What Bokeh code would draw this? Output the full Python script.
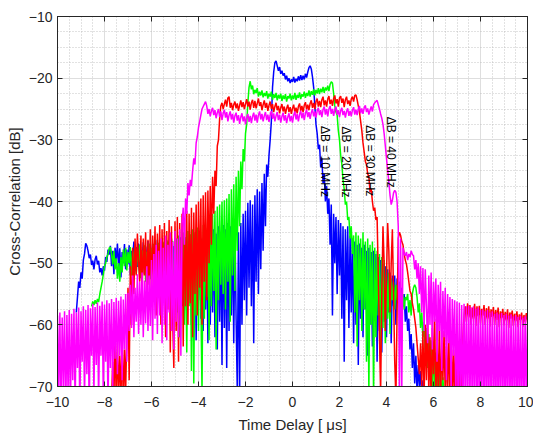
import numpy as np
from bokeh.plotting import figure
from bokeh.models import (Range1d, LinearAxis, SingleIntervalTicker, ColumnDataSource,
                          CustomLabelingPolicy)
from bokeh.core.properties import value
from bokeh.embed import file_html
from bokeh.resources import INLINE

# ---------------- data ----------------
DT = 0.05  # sample spacing of every series [us]

# dB = 10 MHz (blue), samples start at -9.20 us
blue_t0 = -9.20
blue_db = [
    -58.0, -55.5, -53.0, -54.0, -51.5, -52.5, -49.5, -48.5, -46.8, -47.2,
    -48.0, -49.2, -48.6, -50.3, -49.6, -51.0, -49.4, -48.8, -50.2, -49.6,
    -51.5, -50.8, -52.0, -50.5, -51.2, -49.0, -49.8, -47.8, -48.6, -47.2,
    -50.5, -48.0, -51.8, -47.5, -49.5, -46.8, -50.8, -47.6, -52.3, -48.2,
    -50.0, -46.9, -51.0, -47.8, -50.2, -47.1, -52.0, -48.0, -49.2, -46.5,
    -51.3, -47.4, -50.6, -46.8, -52.5, -47.9, -49.8, -46.6, -51.7, -47.3,
    -50.4, -46.4, -52.2, -47.6, -49.6, -46.8, -53.0, -47.5, -51.0, -46.2,
    -54.0, -47.8, -50.5, -46.5, -55.0, -47.0, -52.0, -46.3, -53.5, -47.6,
    -51.2, -46.0, -56.0, -47.2, -52.8, -46.4, -55.0, -46.9, -53.5, -45.8,
    -57.0, -47.0, -54.0, -45.9, -58.0, -46.5, -55.5, -45.5, -60.0, -46.2,
    -57.0, -45.3, -62.5, -46.0, -56.0, -45.5, -59.0, -46.0, -61.0, -45.0,
    -57.5, -46.2, -63.0, -44.8, -60.0, -45.6, -58.0, -44.5, -62.0, -45.2,
    -64.0, -44.0, -59.5, -45.0, -66.5, -43.8, -60.5, -44.5, -67.0, -43.5,
    -61.0, -44.0, -58.5, -43.0, -63.0, -42.8, -59.0, -70.5, -45.0, -72.0,
    -43.5, -60.0, -42.0, -56.0, -41.5, -58.5, -40.2, -54.0, -39.8, -57.0,
    -40.5, -63.0, -39.0, -53.0, -38.0, -55.0, -38.4, -51.0, -37.0, -48.0,
    -35.5, -44.0, -34.0, -36.0, -32.5, -30.0, -27.0, -21.5, -19.0, -17.5,
    -17.2, -18.0, -18.8, -18.2, -19.3, -18.8, -19.6, -19.2, -20.2, -19.6,
    -20.5, -20.0, -20.8, -20.2, -20.6, -19.8, -20.7, -20.1, -20.5, -19.7,
    -20.4, -19.5, -20.3, -19.6, -20.2, -19.3, -19.9, -19.0, -18.3, -18.0,
    -18.5, -19.8, -21.5, -24.5, -27.5, -29.0, -31.5, -30.8, -34.5, -33.0,
    -37.0, -35.5, -40.0, -37.5, -42.0, -39.5, -47.0, -40.5, -58.5, -42.0,
    -50.0, -42.5, -55.0, -43.0, -52.0, -43.5, -59.0, -44.0, -66.0, -44.5,
    -56.0, -44.0, -60.5, -45.5, -58.0, -46.0, -63.0, -46.5, -60.0, -47.0,
    -66.5, -46.8, -59.0, -47.5, -62.0, -47.0, -57.5, -48.0, -65.0, -47.5,
    -60.0, -48.2, -63.5, -48.0, -58.5, -48.5, -66.0, -49.0, -61.0, -49.5,
    -64.5, -50.0, -59.5, -50.5, -62.0, -51.0, -58.0, -51.5, -63.0, -52.0,
    -57.0, -52.0, -60.0, -52.5, -56.0, -53.0, -58.0, -54.0, -57.0, -55.0,
    -59.5, -57.0, -61.0, -59.0, -64.0, -61.5, -67.0, -63.0, -69.5, -65.0,
    -71.0, -66.5, -70.0, -67.5, -72.0, -69.0, -73.0,
]

# dB = 20 MHz (green), samples start at -8.55 us
green_t0 = -8.55
green_db = [
    -57.0, -56.2, -56.8, -56.0, -56.6, -55.8, -56.3, -55.0, -54.0, -53.0,
    -51.8, -50.5, -50.0, -49.0, -48.5, -47.6, -47.4, -48.5, -50.2, -48.0,
    -51.0, -49.2, -52.5, -50.0, -53.0, -49.0, -51.5, -47.8, -50.5, -47.5,
    -51.2, -48.2, -50.0, -47.4, -52.0, -48.0, -50.6, -47.2, -51.8, -48.3,
    -49.8, -47.0, -52.4, -47.9, -50.3, -47.1, -53.0, -48.1, -50.9, -46.8,
    -52.6, -47.6, -51.0, -46.9, -54.0, -48.0, -50.8, -46.7, -53.6, -47.5,
    -51.5, -46.6, -55.0, -47.8, -52.0, -46.5, -56.0, -47.2, -53.0, -46.4,
    -57.5, -47.0, -46.0, -58.0, -45.5, -62.0, -46.2, -56.5, -45.0, -60.0,
    -45.8, -64.5, -44.8, -57.0, -45.3, -67.5, -44.5, -69.5, -45.0, -58.5,
    -44.2, -61.0, -44.8, -56.0, -71.0, -43.8, -59.0, -44.3, -55.5, -43.5,
    -62.5, -43.2, -57.0, -42.0, -54.5, -41.5, -64.0, -40.8, -56.0, -40.5,
    -53.5, -40.0, -55.0, -39.8, -57.5, -39.5, -53.0, -38.8, -59.5, -38.0,
    -52.0, -37.2, -54.5, -36.0, -48.0, -35.0, -44.0, -33.5, -38.0, -31.5,
    -33.5, -29.0, -27.5, -24.0, -21.5, -20.5, -21.8, -21.2, -22.6, -21.9,
    -22.4, -21.6, -23.0, -22.2, -22.8, -22.0, -23.1, -22.4, -22.9, -22.1,
    -23.3, -22.5, -23.0, -22.2, -23.5, -22.6, -23.2, -22.4, -23.6, -22.7,
    -23.3, -22.5, -23.7, -22.8, -23.4, -22.6, -23.8, -22.9, -23.3, -22.5,
    -23.6, -22.8, -23.4, -22.4, -23.5, -22.7, -23.2, -22.3, -23.4, -22.6,
    -23.0, -22.2, -23.2, -22.4, -22.9, -22.0, -23.0, -22.1, -22.7, -21.8,
    -22.8, -21.9, -22.5, -21.6, -22.6, -21.7, -22.3, -21.4, -22.4, -21.5,
    -22.0, -21.2, -22.1, -21.0, -20.6, -20.8, -22.5, -24.5, -25.5, -26.0,
    -28.5, -30.0, -32.5, -34.0, -36.5, -38.0, -40.5, -40.0, -43.0, -42.5,
    -46.0, -44.0, -48.5, -45.5, -58.0, -45.0, -63.5, -45.5, -56.0, -46.0,
    -61.0, -45.0, -57.5, -46.5, -66.0, -46.0, -71.0, -47.0, -60.0, -46.5,
    -72.0, -47.5, -62.0, -48.0, -58.5, -48.5, -65.0, -49.0, -60.5, -49.5,
    -63.0, -50.5, -59.0, -51.5, -61.5, -52.5, -56.0, -53.0, -57.5, -53.5,
    -56.0, -54.0, -57.0, -54.5, -56.5, -55.0, -57.5, -55.5, -56.0, -55.0,
    -58.0, -56.0, -58.5, -55.0, -54.0, -53.5, -54.0, -55.5, -58.0, -56.5,
    -60.5, -58.0, -62.0, -59.5, -64.5, -60.5, -67.0, -61.5, -69.0, -62.5,
    -71.0, -63.5, -70.5, -64.5, -72.0, -65.5, -71.5, -67.0, -73.0, -68.5,
    -72.0, -74.0,
]

# dB = 30 MHz (red), samples start at -7.70 us
red_t0 = -7.70
red_db = [
    -72.0, -66.0, -72.0, -61.5, -73.0, -63.0, -71.0, -65.0, -72.0, -62.0,
    -73.0, -64.0, -71.0, -61.0, -54.0, -69.0, -50.5, -60.0, -47.5, -55.0,
    -46.0, -52.0, -45.2, -50.0, -53.0, -45.5, -55.5, -46.0, -52.0, -45.0,
    -57.0, -46.2, -53.5, -44.5, -56.0, -45.5, -52.5, -44.0, -58.5, -45.2,
    -54.0, -43.8, -60.0, -44.5, -56.0, -43.5, -62.0, -44.8, -57.5, -43.0,
    -64.5, -44.0, -59.0, -67.0, -43.2, -61.0, -42.5, -66.0, -43.5, -58.0,
    -42.0, -63.5, -42.8, -57.0, -41.5, -60.0, -42.0, -56.5, -41.0, -62.0,
    -41.8, -55.0, -40.5, -58.5, -40.0, -54.0, -39.5, -60.0, -39.0, -53.0,
    -38.5, -56.0, -38.2, -50.0, -37.5, -47.0, -36.0, -42.0, -35.0, -37.5,
    -31.0, -30.0, -26.5, -24.5, -24.0, -25.0, -24.2, -23.5, -24.6, -23.2,
    -23.0, -24.8, -24.0, -25.2, -24.3, -23.8, -24.9, -24.1, -25.3, -24.4,
    -23.6, -24.7, -23.9, -25.0, -24.2, -23.4, -24.6, -23.8, -25.1, -24.0,
    -23.5, -24.8, -23.7, -24.9, -24.1, -23.3, -24.5, -23.9, -25.2, -24.3,
    -23.6, -24.8, -24.0, -25.3, -24.4, -23.8, -25.0, -24.2, -25.5, -24.6,
    -24.0, -25.2, -24.5, -25.7, -24.8, -24.2, -25.4, -24.6, -25.8, -24.9,
    -24.3, -25.5, -24.7, -25.8, -24.9, -24.3, -25.6, -24.8, -25.7, -24.6,
    -24.1, -25.3, -24.5, -25.5, -24.4, -23.9, -25.1, -24.3, -25.2, -24.1,
    -23.6, -24.8, -24.0, -25.0, -23.8, -23.3, -24.6, -23.7, -24.7, -23.5,
    -23.0, -24.4, -23.6, -24.6, -23.4, -22.9, -24.2, -23.5, -24.5, -23.3,
    -22.8, -24.1, -23.4, -24.6, -23.2, -22.9, -24.0, -23.3, -24.7, -23.5,
    -23.0, -24.2, -23.6, -24.5, -23.4, -23.0, -23.8, -22.8, -22.7, -23.5,
    -24.5, -25.5, -27.0, -28.5, -30.5, -32.0, -33.5, -34.0, -35.5, -36.0,
    -38.5, -38.0, -40.0, -41.5, -41.0, -43.0, -42.5, -52.0, -62.0, -71.0,
    -55.0, -44.0, -50.0, -61.0, -52.0, -43.5, -48.0, -58.0, -50.0, -44.5,
    -55.0, -66.0, -72.0, -58.0, -46.0, -45.0, -45.5, -46.5, -47.0, -48.5,
    -49.5, -50.2, -51.5, -53.0, -54.5, -55.0, -56.5, -57.5, -59.0, -60.5,
    -63.0, -65.5, -68.0, -63.0, -70.0, -61.0, -72.0, -60.0, -69.0, -58.5,
    -71.0, -62.0, -73.0, -60.5, -68.0, -59.0, -72.0, -63.0, -70.5, -60.0,
    -73.0, -62.5, -69.0, -61.0, -72.0, -63.5, -71.0, -60.5, -73.0, -62.0,
    -71.5, -64.0, -72.5, -61.5, -73.0, -64.0, -71.0, -63.0, -72.0, -62.0,
    -58.5, -57.0, -59.5, -56.5, -58.8, -56.8, -60.0, -57.2, -59.0, -56.6,
    -60.2, -57.0, -58.6, -56.9, -59.8, -57.4, -58.5, -56.8, -60.0, -57.3,
    -59.0, -57.0, -60.3, -57.5, -58.7, -57.1, -60.0, -57.6, -59.2, -57.2,
    -60.4, -57.8, -58.9, -57.4, -60.1, -57.9, -59.3, -57.5, -60.5, -58.0,
    -59.0, -57.7, -60.2, -58.2, -59.4, -57.8, -60.4, -58.3, -59.2, -58.0,
    -60.3, -58.4, -59.5, -58.1, -59.6,
]

# dB = 40 MHz (magenta), samples start at -10.00 us
magenta_t0 = -10.00
magenta_db = [
    -58.5, -72.0, -58.0, -74.0, -58.8, -70.5, -57.8, -75.0, -58.4, -71.0,
    -57.6, -74.0, -58.2, -69.0, -57.4, -73.5, -58.0, -67.0, -57.2, -74.0,
    -57.8, -66.0, -57.0, -72.0, -57.6, -68.0, -56.8, -74.5, -57.3, -65.0,
    -56.6, -71.0, -57.1, -66.5, -56.4, -73.0, -56.9, -65.0, -56.2, -72.0,
    -56.7, -66.0, -56.0, -74.0, -56.5, -67.0, -55.8, -70.0, -56.3, -65.5,
    -55.6, -68.0, -56.1, -65.0, -55.4, -69.0, -55.9, -64.0, -55.0, -66.0,
    -54.8, -61.0, -53.5, -60.5, -52.0, -62.0, -54.0, -59.5, -51.8, -61.5,
    -53.0, -60.0, -51.5, -62.0, -52.8, -59.8, -50.5, -61.0, -52.0, -60.2,
    -49.5, -62.5, -48.5, -59.0, -47.0, -61.5, -48.0, -58.5, -46.0, -63.0,
    -47.5, -60.0, -45.5, -62.5, -47.0, -58.0, -45.0, -61.0, -46.5, -64.0,
    -44.8, -59.5, -46.0, -62.0, -44.5, -65.0, -43.5, -41.0, -47.0, -39.5,
    -42.0, -37.0, -39.0, -36.5, -37.5, -35.0, -33.0, -34.0, -30.5, -29.5,
    -28.0, -27.0, -26.0, -25.0, -24.6, -24.2, -23.8, -24.5, -25.8, -25.0,
    -26.2, -25.3, -24.8, -26.0, -25.2, -26.5, -25.6, -25.0, -26.3, -25.4,
    -26.8, -25.7, -25.1, -26.4, -25.5, -27.0, -26.0, -25.4, -26.7, -25.8,
    -27.2, -26.1, -25.6, -26.9, -26.0, -27.4, -26.3, -25.7, -27.0, -26.2,
    -27.5, -26.4, -25.8, -27.1, -26.1, -27.3, -26.2, -25.6, -26.9, -25.9,
    -27.2, -26.0, -25.4, -26.7, -25.8, -27.0, -26.1, -25.5, -26.8, -25.9,
    -27.1, -26.0, -25.3, -26.6, -25.7, -27.0, -26.1, -25.5, -26.8, -25.9,
    -27.2, -26.2, -25.6, -26.9, -26.0, -27.3, -26.3, -25.7, -27.0, -26.1,
    -27.2, -26.0, -25.4, -26.7, -25.8, -27.0, -25.9, -25.3, -26.5, -25.6,
    -26.8, -25.7, -25.1, -26.3, -25.5, -26.6, -25.6, -25.0, -26.2, -25.4,
    -26.4, -25.3, -24.8, -26.0, -25.2, -26.3, -25.1, -24.6, -25.9, -25.0,
    -26.2, -25.0, -24.5, -25.8, -25.0, -26.1, -25.1, -24.6, -25.9, -25.2,
    -26.3, -25.3, -24.8, -26.0, -25.3, -26.4, -25.4, -24.9, -26.1, -25.3,
    -26.2, -25.2, -24.7, -25.9, -25.1, -26.0, -25.0, -24.5, -25.7, -24.9,
    -25.8, -24.8, -24.4, -25.5, -24.9, -25.9, -25.2, -24.6, -25.4, -24.3,
    -24.0, -23.8, -23.6, -24.3, -25.0, -25.8, -26.5, -27.5, -29.0, -31.0,
    -33.0, -35.0, -36.8, -39.0, -40.5, -39.8, -38.6, -38.2, -38.5, -40.0,
    -44.0, -72.0, -46.0, -71.0, -47.5, -48.4, -48.8, -48.2, -49.5, -48.5,
    -49.0, -48.0, -48.6, -48.8, -51.0, -49.5, -52.5, -50.0, -55.0, -50.5,
    -58.0, -50.8, -61.0, -51.0, -57.0, -63.0, -52.0, -60.0, -51.5, -64.0,
    -53.0, -59.5, -52.5, -66.0, -53.5, -61.0, -53.0, -67.5, -54.5, -62.0,
    -54.0, -69.0, -55.0, -63.0, -55.5, -71.0, -55.8, -65.0, -56.0, -72.0,
    -56.2, -74.0, -56.4, -73.0, -56.8, -75.0, -56.6, -73.5, -57.0, -74.5,
    -56.9, -73.0, -57.2, -75.0, -57.0, -73.5, -57.4, -74.0, -57.2, -75.0,
    -57.6, -73.0, -57.5, -74.5, -57.8, -73.5, -57.6, -75.0, -58.0, -73.0,
    -57.8, -74.0, -58.2, -75.0, -58.0, -73.5, -58.3, -74.5, -58.1, -73.0,
    -58.4, -75.0, -58.2, -73.5, -58.5, -74.0, -58.3, -75.0, -58.6, -73.0,
    -58.4, -74.5, -58.7, -73.5, -58.5, -75.0, -58.8, -73.0, -58.6, -74.0,
    -58.5,
]

# curve annotations
label_text = ["\u0394B = 10 MHz", "\u0394B = 20 MHz", "\u0394B = 30 MHz", "\u0394B = 40 MHz"]
label_x = [1.37, 2.29, 3.28, 4.18]
label_y = [-33.5, -33.6, -33.4, -32.0]

x_ticks_interval = 2
y_ticks_interval = 10

# ---------------- figure ----------------
FONT = "Liberation Sans"
AX = "#262626"

p = figure(width=533, height=435,
           x_range=Range1d(-10, 10), y_range=Range1d(-70, -10),
           output_backend="svg", toolbar_location=None,
           min_border_left=57, min_border_right=6,
           min_border_top=16, min_border_bottom=48,
           background_fill_color="white", border_fill_color="white")
p.outline_line_color = AX
p.outline_line_width = 1

xt = SingleIntervalTicker(interval=x_ticks_interval, num_minor_ticks=4)
yt = SingleIntervalTicker(interval=y_ticks_interval, num_minor_ticks=4)

p.xaxis.ticker = xt
p.yaxis.ticker = yt
p.xgrid.ticker = xt
p.ygrid.ticker = yt
for g in (p.xgrid, p.ygrid):
    g.grid_line_color = "#dedede"
    g.grid_line_width = 1
    g.minor_grid_line_color = "#b8b8b8"
    g.minor_grid_line_dash = "1 2"
    g.minor_grid_line_width = 1
    g.minor_grid_line_alpha = 0.8

def style_axis(ax, size="14px"):
    ax.axis_line_color = AX
    ax.axis_line_width = 1
    ax.major_tick_line_color = AX
    ax.major_tick_in = 5
    ax.major_tick_out = 0
    ax.minor_tick_in = 0
    ax.minor_tick_out = 0
    ax.major_label_text_font = FONT
    ax.major_label_text_color = AX
    ax.major_label_text_font_size = size
    ax.axis_label_text_font = FONT
    ax.axis_label_text_color = AX
    ax.axis_label_text_font_style = "normal"
    ax.axis_label_text_font_size = "15px"

style_axis(p.xaxis[0])
style_axis(p.yaxis[0])
p.xaxis.axis_label = "Time Delay [ \u03bcs]"
p.yaxis.axis_label = "Cross-Correlation [dB]"
p.xaxis.major_label_standoff = 10
p.xaxis.axis_label_standoff = 6
p.yaxis.major_label_standoff = 5
p.yaxis.axis_label_standoff = 3

# box axes on top / right: inward ticks only, no labels drawn, no space reserved
no_labels = CustomLabelingPolicy(
    code="const all = [...indices]; for (const i of all) indices.unset(i); return indices")
top_ax = LinearAxis(ticker=xt, major_label_policy=no_labels)
right_ax = LinearAxis(ticker=yt, major_label_policy=no_labels)
style_axis(top_ax, size="0px")
style_axis(right_ax, size="0px")
top_ax.major_label_standoff = 0
right_ax.major_label_standoff = 0
p.add_layout(top_ax, "above")
p.add_layout(right_ax, "right")

def times(t0, ys):
    return np.round(t0 + DT * np.arange(len(ys)), 3)

series = [
    (blue_t0, blue_db, "#0000ff"),
    (green_t0, green_db, "#00ff00"),
    (red_t0, red_db, "#ff0000"),
    (magenta_t0, magenta_db, "#ff00ff"),
]
for t0, ys, col in series:
    src = ColumnDataSource(dict(t=times(t0, ys), db=ys))
    p.line("t", "db", source=src, line_color=col, line_width=1.5)

p.text(x=label_x, y=label_y, text=label_text, angle=-np.pi / 2,
       text_font=value(FONT), text_font_size=value("12px"),
       text_color="black", text_align="center", text_baseline="middle")

open("out.html", "w").write(file_html(p, INLINE))
